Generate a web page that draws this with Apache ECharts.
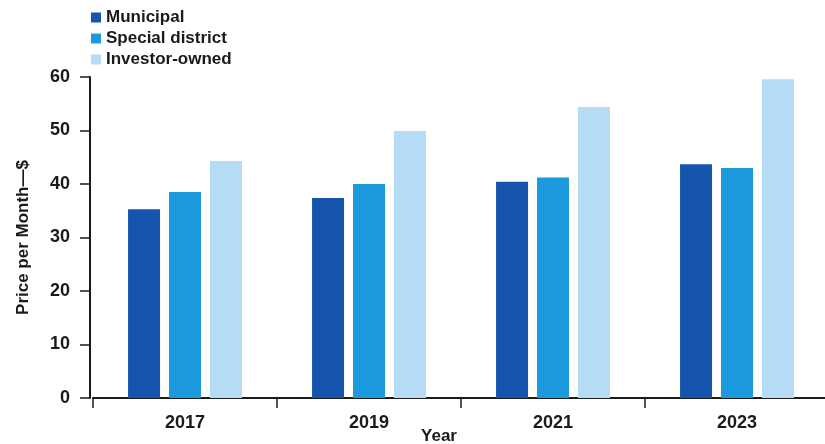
<!DOCTYPE html>
<html>
<head>
<meta charset="utf-8">
<script src="https://cdn.jsdelivr.net/npm/echarts@6/dist/echarts.min.js"></script>
<style>
  html, body { margin: 0; padding: 0; background: #fff; }
  #chart { width: 825px; height: 444px; }
</style>
</head>
<body>
<div id="chart"></div>
<script>
// data
var years = ['2017', '2019', '2021', '2023'];
var municipal = [35.3, 37.4, 40.4, 43.7];
var specialDistrict = [38.5, 40.0, 41.2, 43.0];
var investorOwned = [44.3, 49.9, 54.4, 59.6];
var yTicks = { min: 0, max: 60, interval: 10 };

var fontFam = '"Liberation Sans", Arial, sans-serif';
var ink = '#1a1a1a';

(function() {
	var myChart = echarts.init(document.getElementById('chart'));
	myChart.setOption({
		animation : false,
		color : [ '#1655ad', '#1d9ade', '#b5dbf5' ],
		textStyle : { fontFamily : fontFam },
		legend : {
			orient : 'vertical',
			left : 86,
			top : 4,
			itemWidth : 10,
			itemHeight : 10,
			itemGap : 4,
			icon : 'rect',
			textStyle : {
				fontSize : 17,
				fontWeight : 'bold',
				color : ink,
				fontFamily : fontFam
			},
			data : [ 'Municipal', 'Special district', 'Investor-owned' ]
		},
		grid : {
			left : 93,
			right : -4,
			top : 77,
			bottom : 46,
			containLabel : false,
			outerBoundsMode : 'none'
		},
		xAxis : {
			type : 'category',
			data : years,
			name : 'Year',
			nameLocation : 'middle',
			nameGap : 30,
			nameMoveOverlap : false,
			nameTextStyle : {
				fontSize : 17,
				fontWeight : 'bold',
				color : ink,
				fontFamily : fontFam,
				padding : [ 0, 44, 0, 0 ]
			},
			axisLine : { lineStyle : { color : ink, width : 2 } },
			axisTick : { show : true, length : 10, lineStyle : { color : ink, width : 1.5 } },
			axisLabel : {
				margin : 16,
				fontSize : 18,
				fontWeight : 'bold',
				color : ink,
				fontFamily : fontFam
			}
		},
		yAxis : {
			type : 'value',
			min : yTicks.min,
			max : yTicks.max,
			interval : yTicks.interval,
			offset : 3,
			name : 'Price per Month\u2014$',
			nameLocation : 'middle',
			nameGap : 58,
			nameMoveOverlap : false,
			nameTextStyle : {
				fontSize : 17,
				fontWeight : 'bold',
				color : ink,
				fontFamily : fontFam
			},
			splitLine : { show : false },
			axisLine : { show : true, lineStyle : { color : ink, width : 2 } },
			axisTick : { show : true, length : 10, lineStyle : { color : ink, width : 1.5 } },
			axisLabel : {
				margin : 20,
				fontSize : 18,
				fontWeight : 'bold',
				color : ink,
				fontFamily : fontFam
			}
		},
		series : [ {
			name : 'Municipal',
			type : 'bar',
			barWidth : 32,
			barGap : '28%',
			data : municipal
		}, {
			name : 'Special district',
			type : 'bar',
			barWidth : 32,
			barGap : '28%',
			data : specialDistrict
		}, {
			name : 'Investor-owned',
			type : 'bar',
			barWidth : 32,
			barGap : '28%',
			data : investorOwned
		} ]
	});
})();
</script>
</body>
</html>
